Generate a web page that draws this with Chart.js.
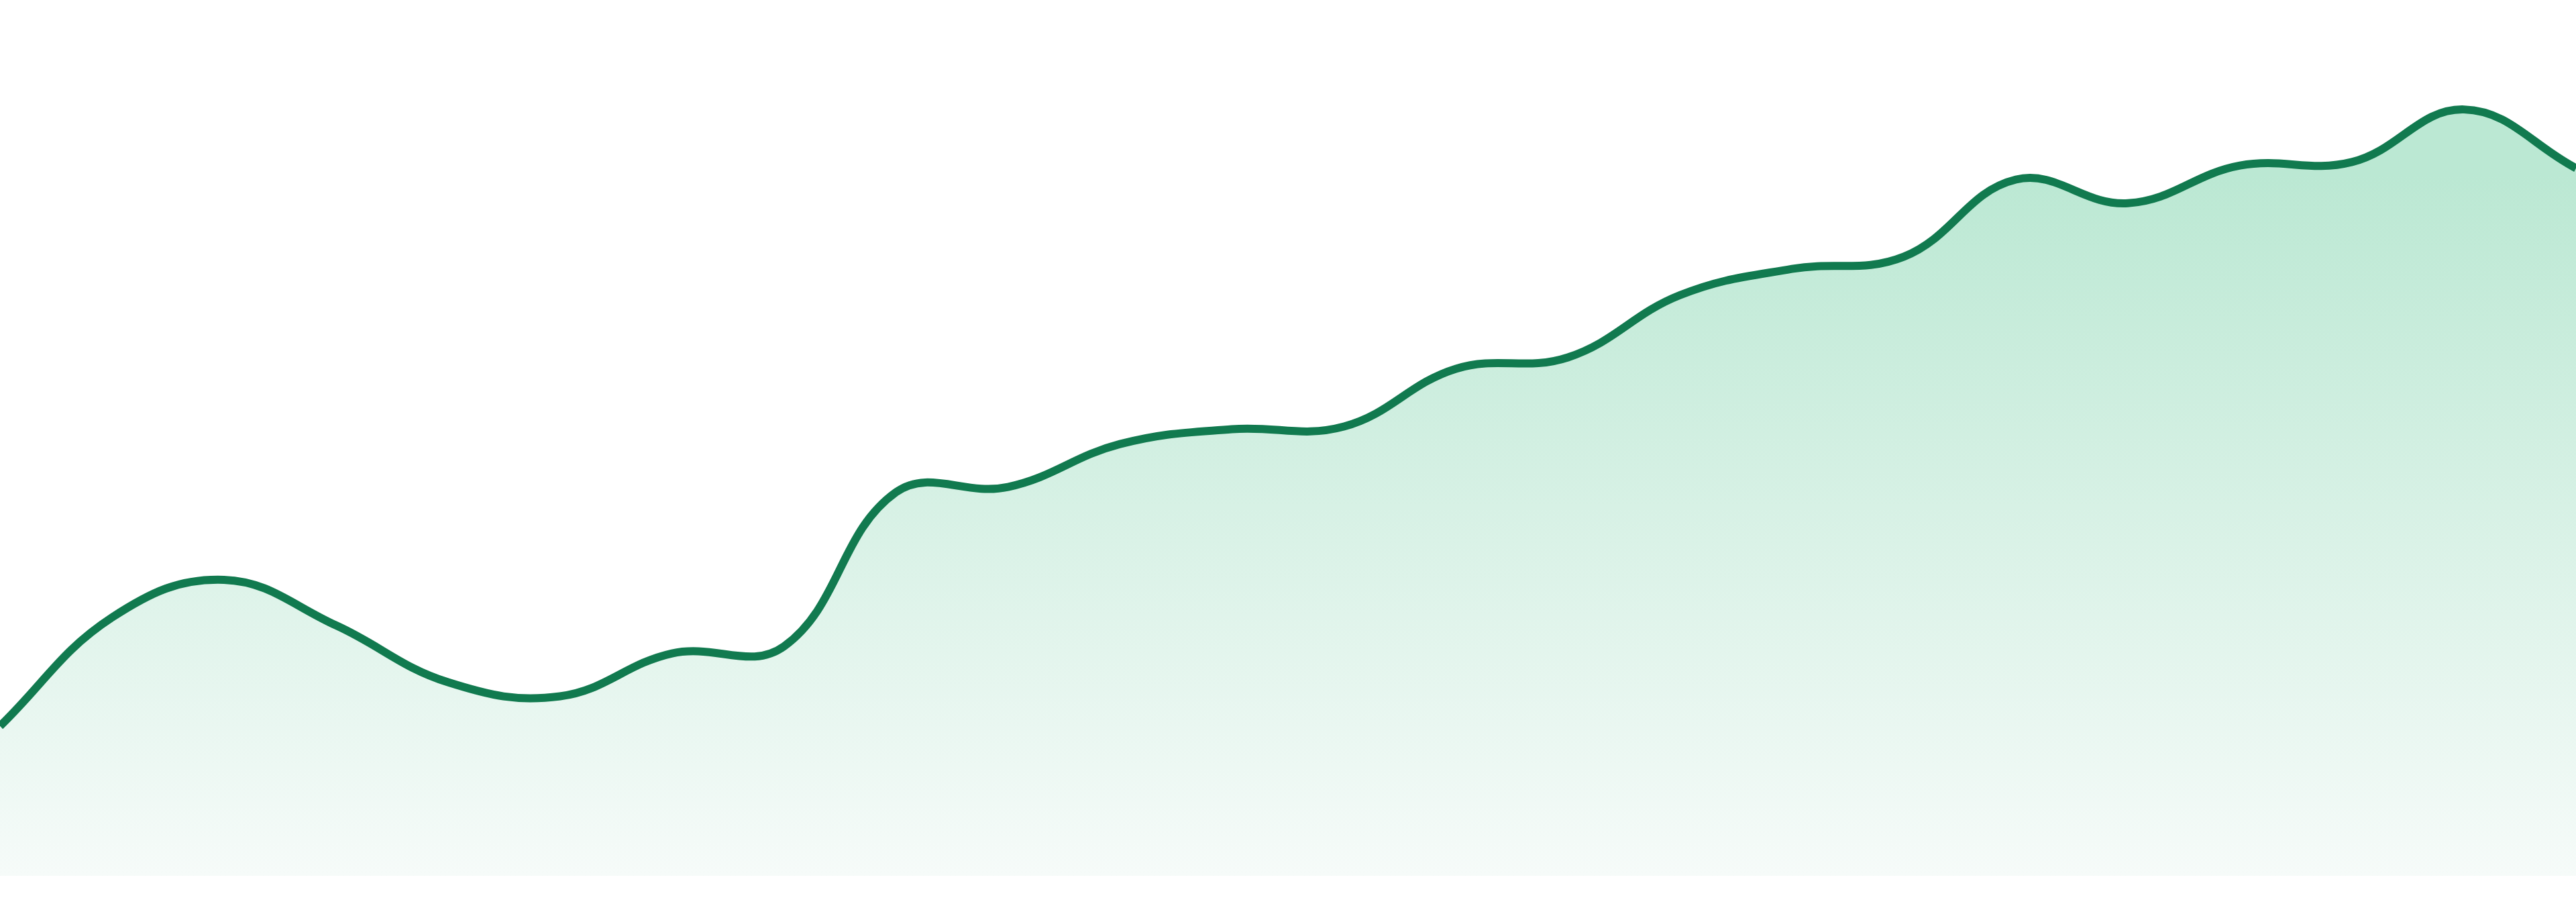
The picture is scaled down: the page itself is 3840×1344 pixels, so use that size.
<!DOCTYPE html>
<html lang="en">
<head>
  <meta charset="UTF-8" />
  <title>Trend</title>
  <script src="https://cdn.jsdelivr.net/npm/chart.js"></script>
  <style>
    html, body {
      margin: 0;
      padding: 0;
      background: #ffffff;
    }
    .chart-container {
      position: relative;
      width: 3840px;
      height: 1344px;
    }
  </style>
</head>
<body>
  <div class="chart-container">
    <canvas id="chart"></canvas>
  </div>

  <script>
    const labels = ['1', '2', '3', '4', '5', '6', '7', '8', '9', '10', '11', '12',
                    '13', '14', '15', '16', '17', '18', '19', '20', '21', '22', '23', '24'];
    const values = [17.1, 29.5, 33.8, 28.6, 22.1, 20.5, 25.4, 26.2, 43.8, 44.4, 49.3, 51.0,
                    51.3, 57.9, 59.2, 66.3, 69.3, 70.7, 79.5, 76.8, 81.1, 81.5, 87.5, 80.8];
    const yMin = 0;
    const yMax = 100;

    // mint fill fading to near white at the baseline
    function fillGradient(context) {
      const area = context.chart.chartArea;
      if (!area) return 'rgba(187,232,211,1)';
      const g = context.chart.ctx.createLinearGradient(0, area.top, 0, area.bottom);
      g.addColorStop(0.2, 'rgba(187,232,211,1)');
      g.addColorStop(1, 'rgba(246,251,249,1)');
      return g;
    }

    const ctx = document.getElementById('chart').getContext('2d');
    new Chart(ctx, {
      type: 'line',
      data: {
        labels: labels,
        datasets: [{
          data: values,
          borderColor: '#117a4f',
          borderWidth: 12,
          backgroundColor: fillGradient,
          fill: 'start',
          tension: 0.4,
          pointRadius: 0,
          pointHoverRadius: 0
        }]
      },
      options: {
        responsive: true,
        maintainAspectRatio: false,
        animation: false,
        layout: { padding: { top: 0, right: 0, bottom: 39, left: 0 } },
        plugins: {
          legend: { display: false },
          tooltip: { enabled: false }
        },
        scales: {
          x: { display: false },
          y: { display: false, min: yMin, max: yMax }
        }
      }
    });
  </script>
</body>
</html>
